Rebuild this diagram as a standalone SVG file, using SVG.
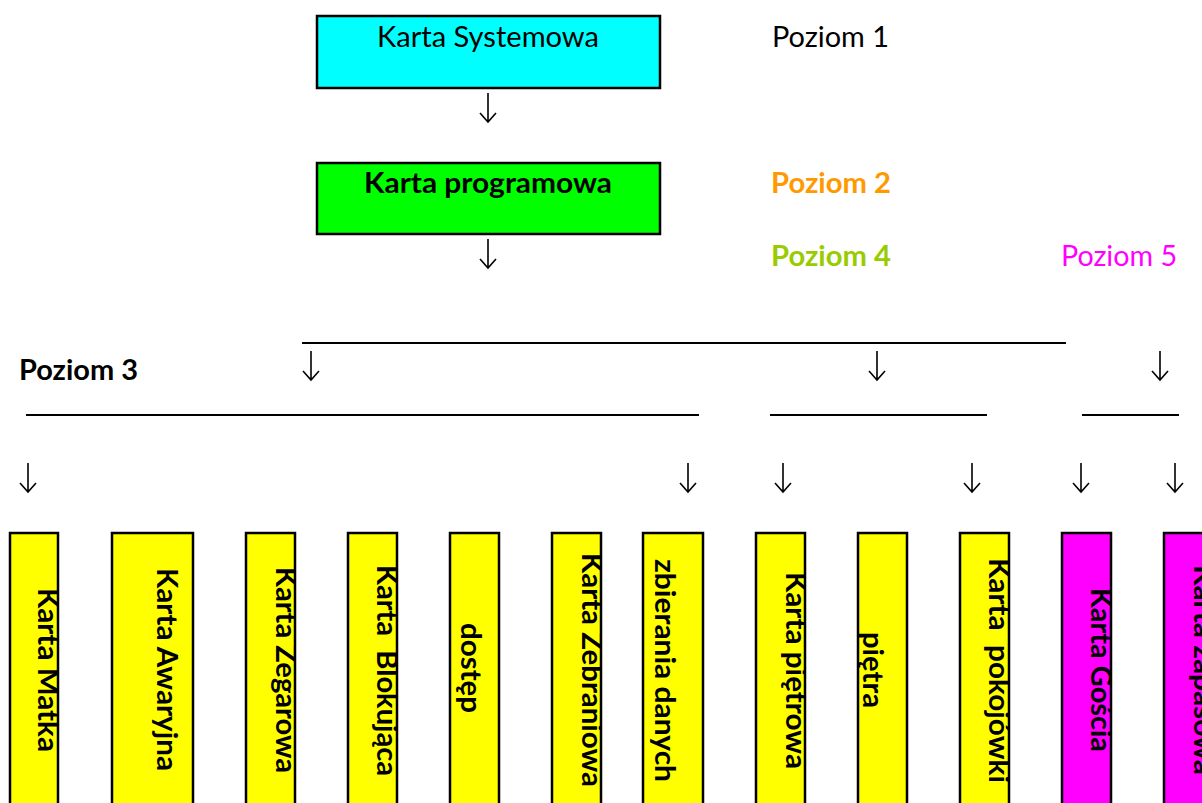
<svg xmlns="http://www.w3.org/2000/svg" xmlns:xlink="http://www.w3.org/1999/xlink" width="1202" height="803" viewBox="0 0 1202 803">
<style>
text{font-family:Lato,"Liberation Sans",sans-serif;fill:#000}
.h{font-size:28px}
.b{font-weight:bold}
.v{font-size:28px;font-weight:bold;white-space:pre}
.box{stroke:#000;stroke-width:2.5}
.yel{fill:#FFFF00}
.mag{fill:#FF00FF}
.ln{stroke:#000;stroke-width:2.2;fill:none}
.arr{stroke:#000;stroke-width:1.6;fill:none}
</style>
<defs>
<path id="arrow" d="M0,0 V29 M-8,20 L0,29 L8,20"/>
<clipPath id="c1"><rect x="10" y="533" width="48" height="280"/></clipPath>
<clipPath id="c2"><rect x="112" y="533" width="81" height="280"/></clipPath>
<clipPath id="c3"><rect x="246" y="533" width="49" height="280"/></clipPath>
<clipPath id="c4"><rect x="348" y="533" width="49" height="280"/></clipPath>
<clipPath id="c5"><rect x="450" y="533" width="49" height="280"/></clipPath>
<clipPath id="c6"><rect x="552" y="533" width="49" height="280"/></clipPath>
<clipPath id="c7"><rect x="643" y="533" width="60" height="280"/></clipPath>
<clipPath id="c8"><rect x="756" y="533" width="49" height="280"/></clipPath>
<clipPath id="c9"><rect x="858" y="533" width="49" height="280"/></clipPath>
<clipPath id="c10"><rect x="960" y="533" width="49" height="280"/></clipPath>
<clipPath id="c11"><rect x="1062" y="533" width="49" height="280"/></clipPath>
<clipPath id="c12"><rect x="1164" y="533" width="38" height="280"/></clipPath>
</defs>
<rect width="1202" height="803" fill="#fff"/>

<g id="karta-systemowa">
<rect class="box" x="317" y="16" width="343" height="72" fill="#00FFFF"/>
<text class="h" x="377" y="46.5" textLength="222" lengthAdjust="spacingAndGlyphs">Karta Systemowa</text>
</g>
<g id="karta-programowa">
<rect class="box" x="317" y="163" width="343" height="71" fill="#00FF00"/>
<text class="h b" x="364" y="193" textLength="248" lengthAdjust="spacingAndGlyphs">Karta programowa</text>
</g>

<g id="labels">
<text class="h" x="772" y="47" textLength="117" lengthAdjust="spacingAndGlyphs">Poziom 1</text>
<text class="h b" x="771" y="193" textLength="120" lengthAdjust="spacingAndGlyphs" style="fill:#FF9900">Poziom 2</text>
<text class="h b" x="771" y="266" textLength="120" lengthAdjust="spacingAndGlyphs" style="fill:#99CC00">Poziom 4</text>
<text class="h" x="1061" y="266" textLength="116" lengthAdjust="spacingAndGlyphs" style="fill:#FF00FF">Poziom 5</text>
<text class="h b" x="19" y="380" textLength="119" lengthAdjust="spacingAndGlyphs">Poziom 3</text>
</g>

<g id="connectors">
<line class="ln" x1="302" y1="343" x2="1066" y2="343"/>
<line class="ln" x1="26" y1="415" x2="699" y2="415"/>
<line class="ln" x1="770" y1="415" x2="987" y2="415"/>
<line class="ln" x1="1082" y1="415" x2="1179" y2="415"/>
<use xlink:href="#arrow" class="arr" x="488" y="93"/>
<use xlink:href="#arrow" class="arr" x="488" y="239"/>
<use xlink:href="#arrow" class="arr" x="311" y="351"/>
<use xlink:href="#arrow" class="arr" x="877" y="351"/>
<use xlink:href="#arrow" class="arr" x="1160" y="351"/>
<use xlink:href="#arrow" class="arr" x="28" y="463"/>
<use xlink:href="#arrow" class="arr" x="688" y="463"/>
<use xlink:href="#arrow" class="arr" x="783" y="463"/>
<use xlink:href="#arrow" class="arr" x="972" y="463"/>
<use xlink:href="#arrow" class="arr" x="1081" y="463"/>
<use xlink:href="#arrow" class="arr" x="1175" y="463"/>
</g>

<g id="karta-matka">
<rect class="box yel" x="10" y="533" width="48" height="280"/>
<g clip-path="url(#c1)"><text class="v" transform="translate(38,588) rotate(90)" textLength="164" lengthAdjust="spacingAndGlyphs">Karta Matka</text></g>
</g>
<g id="karta-awaryjna">
<rect class="box yel" x="112" y="533" width="81" height="280"/>
<g clip-path="url(#c2)"><text class="v" transform="translate(157,568) rotate(90)" textLength="203" lengthAdjust="spacingAndGlyphs">Karta Awaryjna</text></g>
</g>
<g id="karta-zegarowa">
<rect class="box yel" x="246" y="533" width="49" height="280"/>
<g clip-path="url(#c3)"><text class="v" transform="translate(275.5,567) rotate(90)" textLength="206" lengthAdjust="spacingAndGlyphs">Karta Zegarowa</text></g>
</g>
<g id="karta-blokujaca">
<rect class="box yel" x="348" y="533" width="49" height="280"/>
<g clip-path="url(#c4)"><text class="v" xml:space="preserve" transform="translate(377,565) rotate(90)" textLength="211" lengthAdjust="spacingAndGlyphs">Karta  Blokująca</text></g>
</g>
<g id="dostep">
<rect class="box yel" x="450" y="533" width="49" height="280"/>
<g clip-path="url(#c5)"><text class="v" transform="translate(461,623) rotate(90)" textLength="90" lengthAdjust="spacingAndGlyphs">dostęp</text></g>
</g>
<g id="karta-zebraniowa">
<rect class="box yel" x="552" y="533" width="49" height="280"/>
<g clip-path="url(#c6)"><text class="v" transform="translate(582,553) rotate(90)" textLength="234" lengthAdjust="spacingAndGlyphs">Karta Zebraniowa</text></g>
</g>
<g id="zbierania-danych">
<rect class="box yel" x="643" y="533" width="60" height="280"/>
<g clip-path="url(#c7)"><text class="v" transform="translate(655,559) rotate(90)" textLength="223" lengthAdjust="spacingAndGlyphs">zbierania danych</text></g>
</g>
<g id="karta-pietrowa">
<rect class="box yel" x="756" y="533" width="49" height="280"/>
<g clip-path="url(#c8)"><text class="v" transform="translate(786,572) rotate(90)" textLength="197" lengthAdjust="spacingAndGlyphs">Karta piętrowa</text></g>
</g>
<g id="pietra">
<rect class="box yel" x="858" y="533" width="49" height="280"/>
<g clip-path="url(#c9)"><text class="v" transform="translate(863,632) rotate(90)" textLength="76" lengthAdjust="spacingAndGlyphs">piętra</text></g>
</g>
<g id="karta-pokojowki">
<rect class="box yel" x="960" y="533" width="49" height="280"/>
<g clip-path="url(#c10)"><text class="v" xml:space="preserve" transform="translate(988.5,558) rotate(90)" textLength="225" lengthAdjust="spacingAndGlyphs">Karta  pokojówki</text></g>
</g>
<g id="karta-goscia">
<rect class="box mag" x="1062" y="533" width="49" height="280"/>
<g clip-path="url(#c11)"><text class="v" transform="translate(1091,588) rotate(90)" textLength="164" lengthAdjust="spacingAndGlyphs">Karta Gościa</text></g>
</g>
<g id="karta-zapasowa">
<rect class="box mag" x="1164" y="533" width="49" height="280"/>
<g clip-path="url(#c12)"><text class="v" transform="translate(1193.5,565) rotate(90)" textLength="210" lengthAdjust="spacingAndGlyphs">Karta zapasowa</text></g>
</g>
</svg>
